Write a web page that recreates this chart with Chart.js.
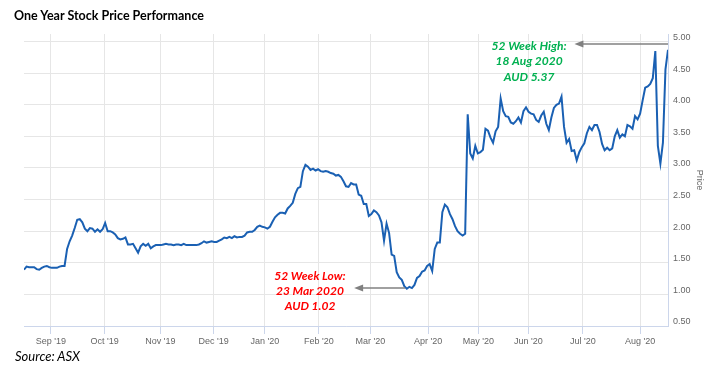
<!DOCTYPE html>
<html lang="en">
<head>
<meta charset="UTF-8">
<title>One Year Stock Price Performance</title>
<script src="https://cdn.jsdelivr.net/npm/chart.js"></script>
<style>
  html, body { margin: 0; padding: 0; background: #fff; overflow: hidden; }
  #wrap { position: relative; width: 720px; height: 377px; }
  #wrap canvas { position: absolute; left: 0; top: 0; }
  #title { position: absolute; left: 14px; top: 8px; font: bold 12.5px Lato, sans-serif; color: #000; }
  #source { position: absolute; left: 15px; top: 348px; font: italic 13px Lato, sans-serif; color: #000; }
</style>
</head>
<body>
<div id="wrap">
  <canvas id="priceChart" width="720" height="377"></canvas>
  <div id="title">One Year Stock Price Performance</div>
  <div id="source">Source: ASX</div>
</div>
<script>
// daily closing price, one value per trading day (19 Aug 2019 .. 18 Aug 2020)
const prices = [
  1.39, 1.44, 1.43, 1.43, 1.43, 1.40, 1.39, 1.42, 1.44, 1.45,
  1.43, 1.42, 1.42, 1.42, 1.44, 1.45, 1.45, 1.72, 1.84, 1.93,
  2.05, 2.18, 2.19, 2.14, 2.04, 2.00, 2.05, 2.04, 1.99, 2.03,
  1.99, 2.03, 2.13, 2.00, 2.00, 1.98, 1.95, 1.89, 1.87, 1.88,
  1.90, 1.79, 1.79, 1.80, 1.73, 1.66, 1.76, 1.80, 1.77, 1.80,
  1.73, 1.76, 1.78, 1.78, 1.78, 1.79, 1.80, 1.79, 1.79, 1.78,
  1.79, 1.79, 1.78, 1.80, 1.78, 1.78, 1.78, 1.78, 1.78, 1.79,
  1.81, 1.84, 1.82, 1.83, 1.84, 1.83, 1.83, 1.85, 1.87, 1.90,
  1.89, 1.91, 1.89, 1.92, 1.90, 1.91, 1.91, 1.93, 1.98, 1.99,
  1.99, 2.02, 2.07, 2.09, 2.07, 2.06, 2.04, 2.07, 2.15, 2.22,
  2.26, 2.29, 2.29, 2.28, 2.36, 2.40, 2.45, 2.59, 2.68, 2.70,
  2.95, 3.05, 3.02, 2.97, 2.99, 2.96, 2.98, 2.95, 2.94, 2.95,
  2.94, 2.92, 2.91, 2.88, 2.89, 2.86, 2.79, 2.71, 2.70, 2.76,
  2.74, 2.74, 2.58, 2.56, 2.43, 2.43, 2.24, 2.27, 2.33, 2.30,
  2.25, 2.14, 1.85, 2.12, 1.97, 1.63, 1.61, 1.35, 1.27, 1.23,
  1.13, 1.09, 1.12, 1.10, 1.15, 1.26, 1.29, 1.36, 1.38, 1.45,
  1.48, 1.37, 1.72, 1.82, 1.82, 2.30, 2.42, 2.38, 2.27, 2.19,
  2.08, 2.00, 1.96, 1.93, 1.96, 3.85, 3.23, 3.15, 3.35, 3.23,
  3.25, 3.29, 3.62, 3.59, 3.48, 3.40, 3.58, 3.65, 4.10, 3.90,
  3.82, 3.81, 3.72, 3.70, 3.74, 3.80, 3.72, 3.90, 3.96, 3.89,
  3.86, 3.85, 3.76, 3.73, 3.83, 3.89, 3.70, 3.60, 3.80, 3.95,
  4.00, 4.02, 4.13, 3.65, 3.40, 3.46, 3.27, 3.28, 3.12, 3.25,
  3.33, 3.39, 3.55, 3.65, 3.60, 3.68, 3.68, 3.57, 3.38, 3.28,
  3.32, 3.28, 3.31, 3.50, 3.60, 3.48, 3.53, 3.50, 3.68, 3.66,
  3.62, 3.82, 3.77, 3.86, 4.07, 4.27, 4.29, 4.33, 4.42, 4.85,
  3.35, 3.07, 3.40, 4.56, 4.87
];

// month starts on the trading-day axis
const monthLabels = ["Sep '19", "Oct '19", "Nov '19", "Dec '19", "Jan '20", "Feb '20",
  "Mar '20", "Apr '20", "May '20", "Jun '20", "Jul '20", "Aug '20"];
const monthTickIdx = [10.6, 31.8, 53.8, 74.8, 95.0, 116.3, 136.6, 159.4, 179.2, 198.9, 220.4, 243.0];

const highNote = ["52 Week High:", "18 Aug 2020", "AUD 5.37"];
const lowNote = ["52 Week Low:", "23 Mar 2020", "AUD 1.02"];

function arrow(ctx, x1, y, x2) {
  ctx.save();
  ctx.strokeStyle = '#808080';
  ctx.fillStyle = '#808080';
  ctx.lineWidth = 1.5;
  ctx.beginPath();
  ctx.moveTo(x1, y);
  ctx.lineTo(x2 + 6, y);
  ctx.stroke();
  ctx.beginPath();
  ctx.moveTo(x2, y);
  ctx.lineTo(x2 + 9, y - 3.5);
  ctx.lineTo(x2 + 9, y + 3.5);
  ctx.closePath();
  ctx.fill();
  ctx.restore();
}

// arrows + 52 week notes
const notesPlugin = {
  id: 'notes',
  afterDatasetsDraw(chart) {
    const { ctx, scales: { x, y } } = chart;
    arrow(ctx, x.getPixelForValue(254), y.getPixelForValue(4.96), x.getPixelForValue(217.1));
    arrow(ctx, x.getPixelForValue(150.3), y.getPixelForValue(1.10), x.getPixelForValue(130.2));

    ctx.save();
    ctx.font = 'italic bold 12px Lato, sans-serif';
    ctx.textAlign = 'center';
    ctx.textBaseline = 'middle';
    ctx.fillStyle = '#00b050';
    let cx = x.getPixelForValue(199.2), cy = y.getPixelForValue(4.93);
    highNote.forEach((t, k) => ctx.fillText(t, cx, cy + k * 15.6));
    ctx.fillStyle = '#ff0000';
    cx = x.getPixelForValue(112.8); cy = y.getPixelForValue(1.29);
    lowNote.forEach((t, k) => ctx.fillText(t, cx, cy + k * 15));
    ctx.restore();
  }
};

const ctx = document.getElementById('priceChart').getContext('2d');
new Chart(ctx, {
  type: 'line',
  data: {
    datasets: [{
      label: 'Price',
      data: prices.map((p, i) => ({ x: i, y: p })),
      borderColor: '#1a60b3',
      borderWidth: 2,
      pointRadius: 0,
      tension: 0,
      fill: false
    }]
  },
  options: {
    responsive: false,
    animation: false,
    devicePixelRatio: 1,
    layout: { padding: { left: 24, top: 34, right: 0, bottom: 0 } },
    plugins: { legend: { display: false }, tooltip: { enabled: false } },
    scales: {
      x: {
        type: 'linear',
        bounds: 'data',
        min: 0,
        max: prices.length - 1,
        afterBuildTicks: s => { s.ticks = monthTickIdx.map(v => ({ value: v })); },
        afterFit: s => { s.height = 51; },
        ticks: {
          autoSkip: false, maxRotation: 0, padding: 2,
          color: '#666', font: { size: 9, family: 'Liberation Sans' },
          callback: (v, i) => monthLabels[i]
        },
        grid: { color: '#e6e6e6', tickColor: '#ccd6eb', tickLength: 8 },
        border: { color: '#ccd6eb' }
      },
      y: {
        position: 'right',
        bounds: 'data',
        min: 0.5,
        max: 5.12,
        afterFit: s => { s.width = 52; },
        ticks: {
          stepSize: 0.5, includeBounds: false, padding: 5, labelOffset: -4,
          color: '#666', font: { size: 9, family: 'Liberation Sans' },
          callback: v => v.toFixed(2)
        },
        grid: { color: '#e6e6e6', drawTicks: false },
        border: { color: '#ccd6eb' },
        title: { display: true, text: 'Price', color: '#666', font: { size: 9, family: 'Liberation Sans' }, padding: { top: 15, bottom: 0 } }
      }
    }
  },
  plugins: [notesPlugin]
});
</script>
</body>
</html>
